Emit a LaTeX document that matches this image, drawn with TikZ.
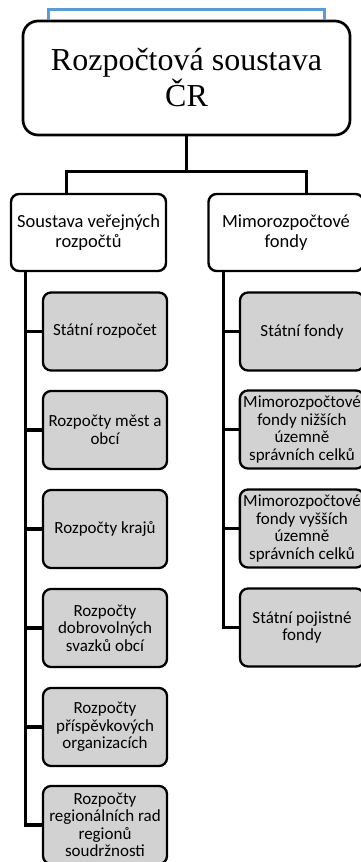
\documentclass[tikz,border=0pt]{standalone}
\usepackage{fontspec}
\setmainfont{Carlito}
\newfontfamily\titlefont{Liberation Serif}
\definecolor{bracketblue}{RGB}{91,155,213}
\definecolor{itemgray}{RGB}{210,210,210}

\tikzset{
	rootbox/.style={draw, line width=2.7pt, rounded corners=15pt, minimum width=327pt, minimum height=114pt, align=center, font=\titlefont\fontsize{32}{36}\selectfont},
	groupbox/.style={draw, line width=2.4pt, rounded corners=8pt, fill=white, minimum width=155pt, minimum height=77pt, align=center, font=\fontsize{18.5}{20}\selectfont},
	itembox/.style={draw, line width=2.3pt, rounded corners=8pt, fill=itemgray, minimum width=124pt, minimum height=78pt, align=center, font=\fontsize{17}{17.5}\selectfont},
	conn/.style={line width=3.3pt},
	bracket/.style={line width=2.8pt, color=bracketblue}
}

\begin{document}
\begin{tikzpicture}[x=1pt, y=-1pt]
		%%%%% START %%%%%
		\useasboundingbox (0,0) rectangle (361,862);
		\clip (0,0) rectangle (361,862);
		
		\node[rootbox] (root) at (186.5,78) {Rozpočtová soustava\\ČR};
		\draw[bracket] ([xshift=27pt]root.north west) -- ++(0,-10) -| ([xshift=-27pt]root.north east);
		
		\node[groupbox] (svr) at (88.5,232.5) {Soustava veřejných\\rozpočtů};
		\node[groupbox] (mrf) at (286,232.5) {Mimorozpočtové\\fondy};
		
		% veřejné rozpočty
		\node[itembox] (sr) at (105,331.5) {Státní rozpočet};
		\node[itembox] (rmo) at (105,430) {Rozpočty měst a\\obcí};
		\node[itembox] (rk) at (105,529) {Rozpočty krajů};
		\node[itembox] (rdso) at (105,628) {Rozpočty\\dobrovolných\\svazků obcí};
		\node[itembox] (rpo) at (105,727) {Rozpočty\\příspěvkových\\organizacích};
		\node[itembox] (rrr) at (105,825) {Rozpočty\\regionálních rad\\regionů\\soudržnosti};
		
		% mimorozpočtové fondy
		\node[itembox] (sf) at (302,331.5) {Státní fondy};
		\node[itembox] (mfn) at (302,429.5) {Mimorozpočtové\\fondy nižších\\územně\\správních celků};
		\node[itembox] (mfv) at (302,528.5) {Mimorozpočtové\\fondy vyšších\\územně\\správních celků};
		\node[itembox] (spf) at (302,627.5) {Státní pojistné\\fondy};
		
		% spojnice
		\coordinate (svr-drop) at ([xshift=57pt]svr.north west);
		\coordinate (mrf-drop) at ([xshift=99pt]mrf.north west);
		\draw[conn] (root.south) -- ++(0,35) coordinate (fork);
		\draw[conn] (svr-drop) |- (fork) -| (mrf-drop);
		
		\coordinate (svr-bus) at ([xshift=16pt]svr.south west);
		\draw[conn] (svr-bus) |- (sr.west);
		\draw[conn] (svr-bus) |- (rmo.west);
		\draw[conn] (svr-bus) |- (rk.west);
		\draw[conn] (svr-bus) |- (rdso.west);
		\draw[conn] (svr-bus) |- (rpo.west);
		\draw[conn] (svr-bus) |- (rrr.west);
		
		\coordinate (mrf-bus) at ([xshift=16pt]mrf.south west);
		\draw[conn] (mrf-bus) |- (sf.west);
		\draw[conn] (mrf-bus) |- (mfn.west);
		\draw[conn] (mrf-bus) |- (mfv.west);
		\draw[conn] (mrf-bus) |- (spf.west);
		%%%%% END %%%%%
\end{tikzpicture}
\end{document}
